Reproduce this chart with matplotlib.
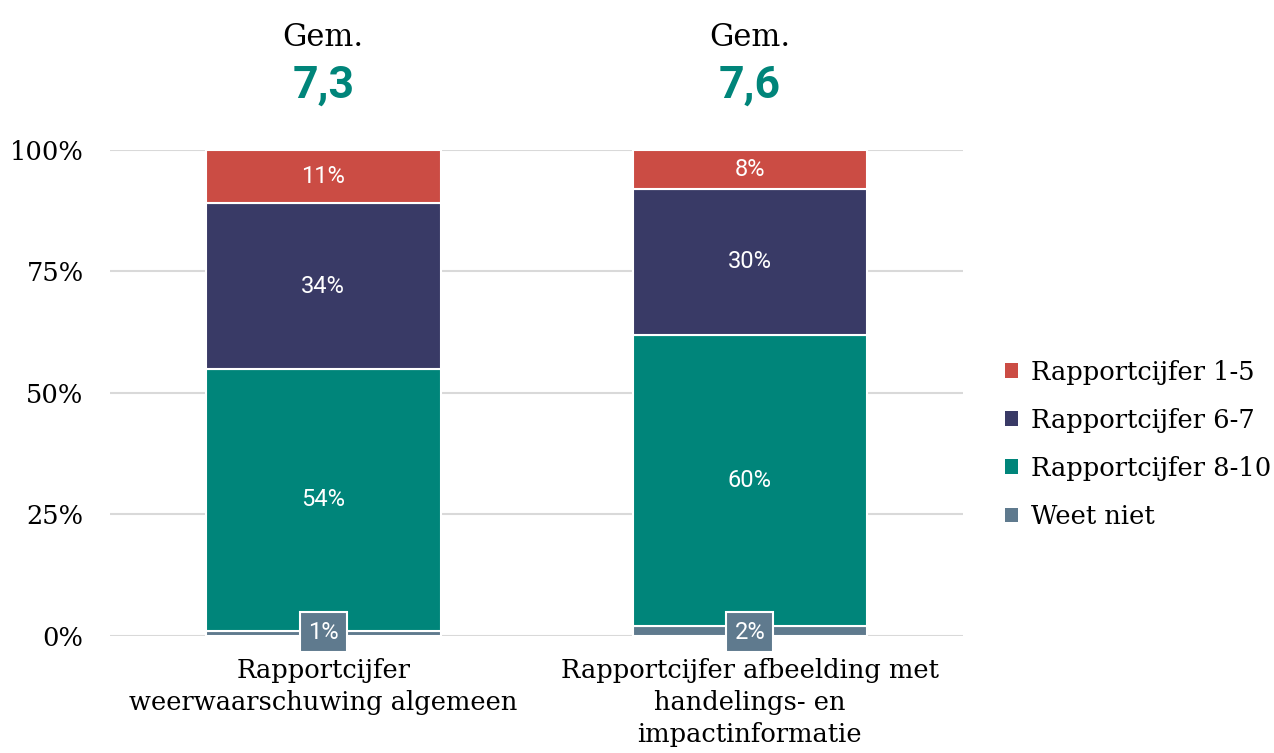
import numpy as np
import matplotlib.pyplot as plt
from matplotlib.transforms import blended_transform_factory

categories = ["Rapportcijfer\nweerwaarschuwing algemeen",
              "Rapportcijfer afbeelding met\nhandelings- en\nimpactinformatie"]
averages = ["7,3", "7,6"]
series = ["Weet niet", "Rapportcijfer 8-10", "Rapportcijfer 6-7", "Rapportcijfer 1-5"]
values = {
    "Weet niet": [1, 2],
    "Rapportcijfer 8-10": [54, 60],
    "Rapportcijfer 6-7": [34, 30],
    "Rapportcijfer 1-5": [11, 8],
}
colors = {
    "Weet niet": "#5F7A8E",
    "Rapportcijfer 8-10": "#00857A",
    "Rapportcijfer 6-7": "#393A66",
    "Rapportcijfer 1-5": "#CB4C44",
}

serif = "DejaVu Serif"
sans = "Roboto"

fig = plt.figure(figsize=(12.74, 7.53), dpi=100)
ax = fig.add_axes([0.0863, 0.1554, 0.6697, 0.6454])

x = np.arange(len(categories))
width = 0.55
bottom = np.zeros(len(categories))
handles = {}
for s in series:
    v = np.array(values[s], dtype=float)
    bars = ax.bar(x, v, width, bottom=bottom, color=colors[s],
                  edgecolor="white", linewidth=1.5, zorder=3)
    handles[s] = bars
    for xi, b, vi in zip(x, bottom, v):
        if s == "Weet niet":
            ax.text(xi, 0.8, f"{int(vi)}%", ha="center", va="center",
                    color="white", fontsize=17, family=sans, zorder=5,
                    bbox=dict(boxstyle="square,pad=0.35", fc=colors[s], ec="white", lw=1.5))
        else:
            ax.text(xi, b + vi / 2, f"{int(vi)}%", ha="center", va="center",
                    color="white", fontsize=17, family=sans, zorder=5)
    bottom += v

ax.set_xlim(-0.5, 1.5)
ax.set_ylim(0, 100)
ax.set_yticks([0, 25, 50, 75, 100])
ax.set_yticklabels(["0%", "25%", "50%", "75%", "100%"], family=serif, fontsize=18.5)
ax.set_xticks(x)
ax.set_xticklabels(categories, family=serif, fontsize=18.5, linespacing=1.35)
ax.tick_params(axis="both", length=0)
ax.tick_params(axis="y", pad=19)
ax.tick_params(axis="x", pad=16)
ax.grid(axis="y", color="#D9D9D9", linewidth=1.5, zorder=0)
for sp in ax.spines.values():
    sp.set_visible(False)

trans = blended_transform_factory(ax.transData, fig.transFigure)
for xi, avg in zip(x, averages):
    ax.text(xi, 1 - 38 / 753, "Gem.", transform=trans, ha="center", va="center",
            fontsize=22, family=serif, color="black")
    ax.text(xi, 1 - 86 / 753, avg, transform=trans, ha="center", va="center",
            fontsize=32, family=sans, fontweight="bold", color="#00857A")

order = ["Rapportcijfer 1-5", "Rapportcijfer 6-7", "Rapportcijfer 8-10", "Weet niet"]
leg = fig.legend([handles[s] for s in order], order, loc="center left",
                 bbox_to_anchor=(0.789, 0.41), frameon=False,
                 prop={"family": serif, "size": 18.5}, handlelength=0.5,
                 handleheight=0.5, handletextpad=0.5, labelspacing=0.9,
                 borderaxespad=0, borderpad=0)
for h in leg.legend_handles:
    h.set_edgecolor("none")

fig.savefig("out.png", dpi=100)
